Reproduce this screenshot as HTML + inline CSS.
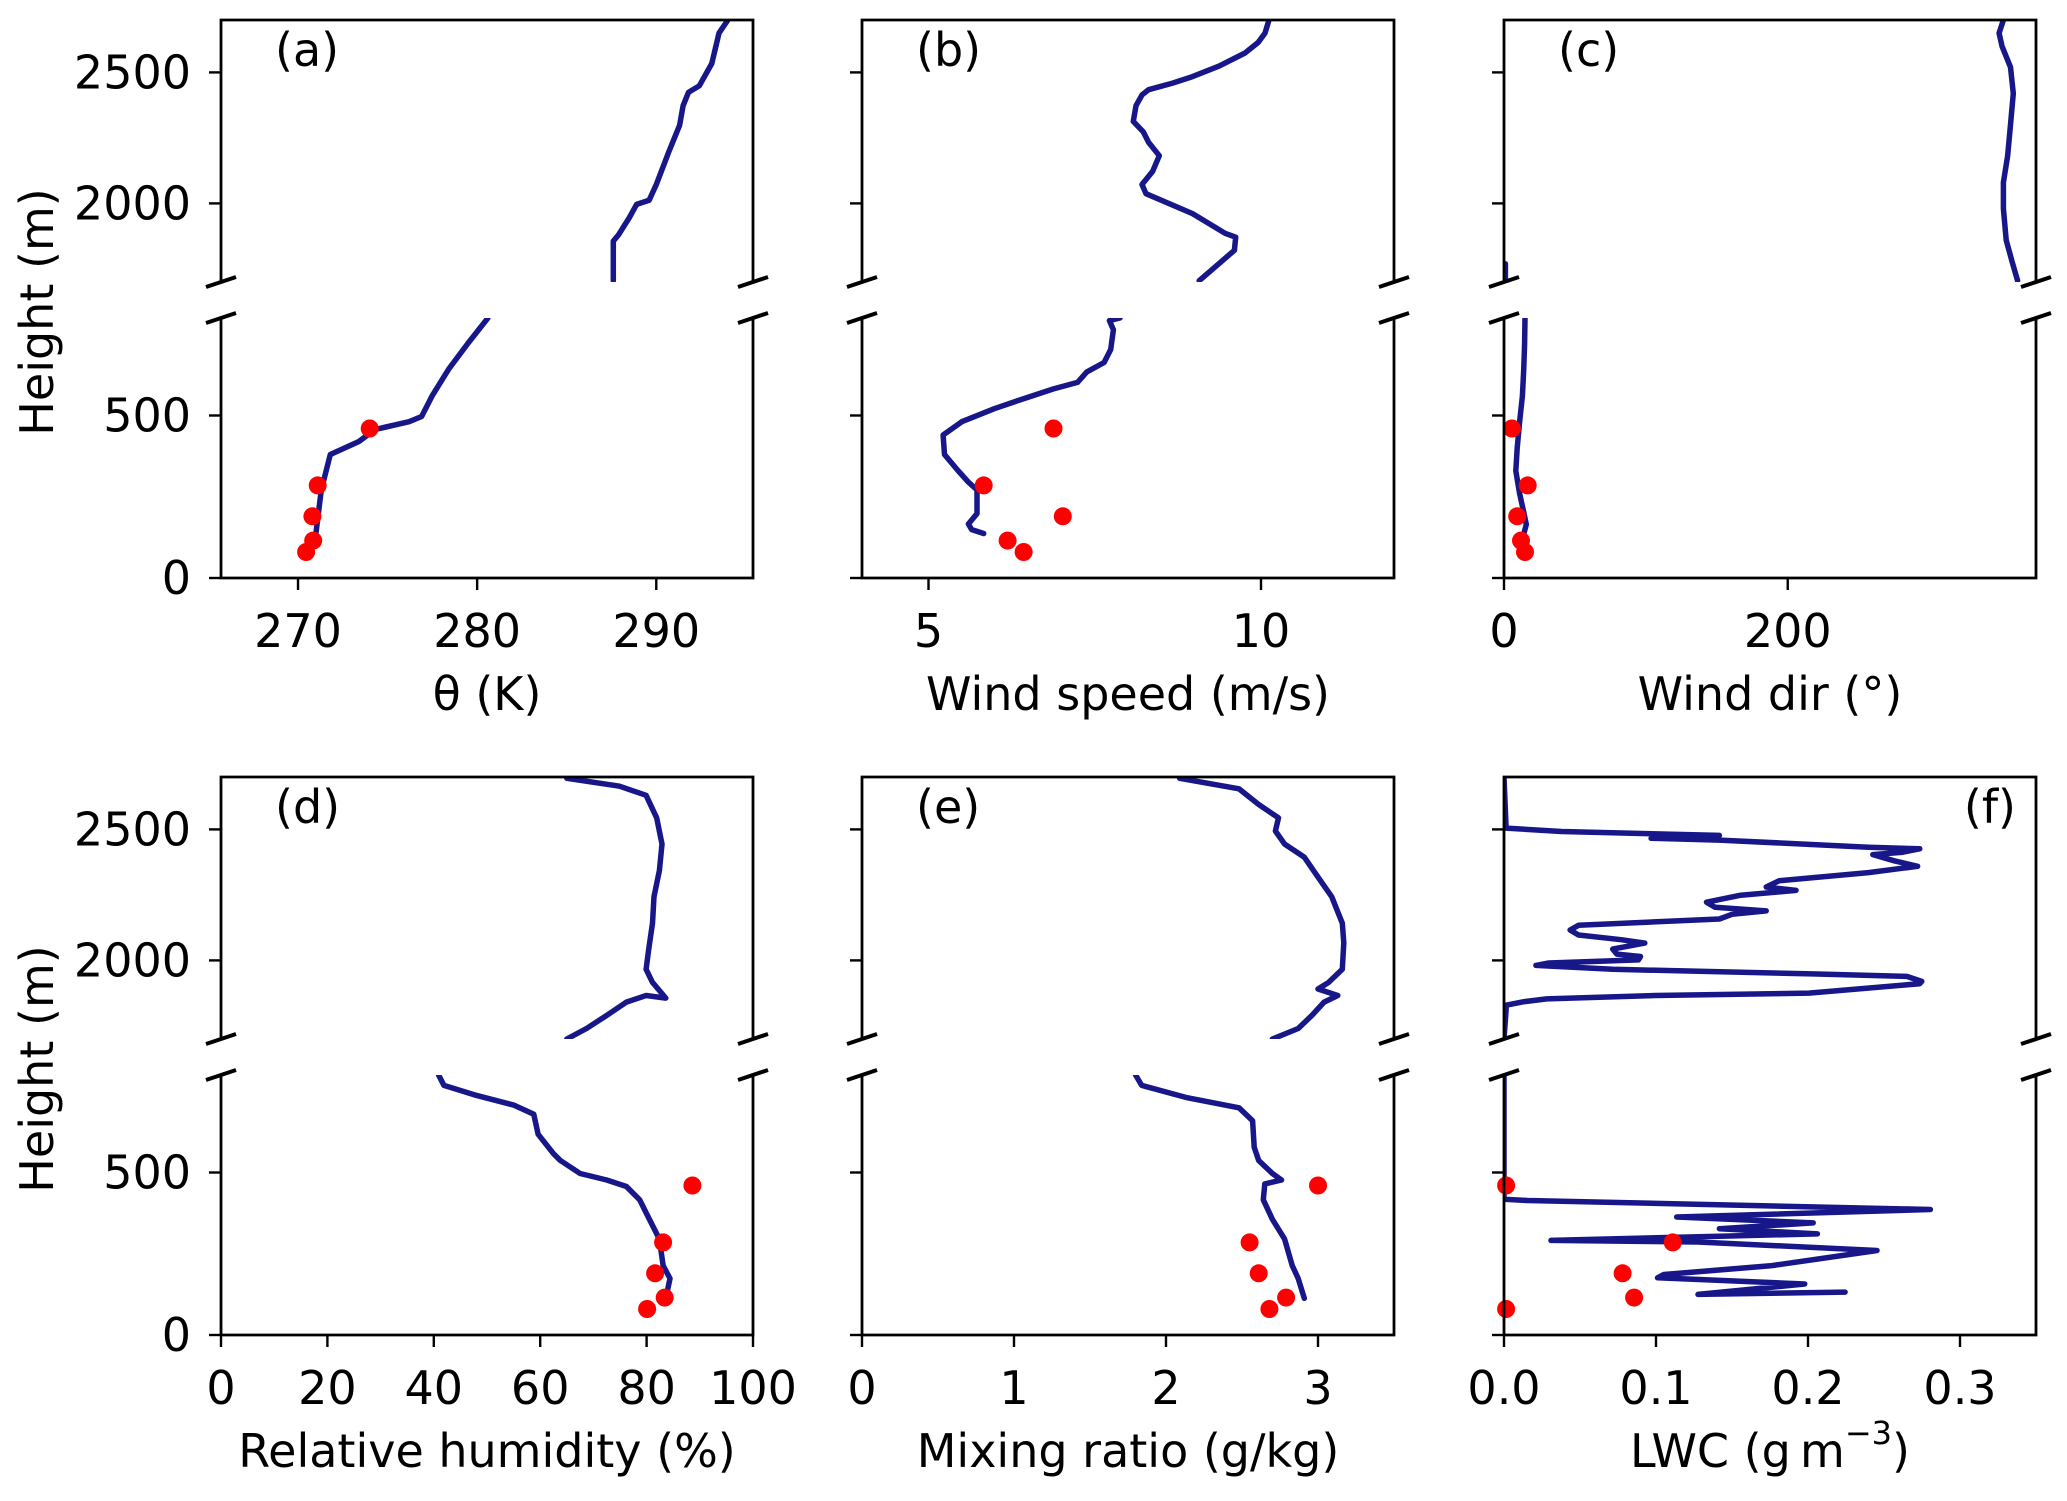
<!DOCTYPE html>
<html><head><meta charset="utf-8"><style>
html,body{margin:0;padding:0;background:#fff;}
svg{display:block;font-family:"DejaVu Sans","Liberation Sans",sans-serif;}
</style></head><body>
<svg id="fig" width="2067" height="1501" viewBox="0 0 2067 1501" xmlns="http://www.w3.org/2000/svg"></svg>
<script>
// ---------- data ----------
const dotHeights = [80, 115, 190, 285, 460];

const thetaUpH = [1705,1856,1881,1946,1996,2012,2072,2197,2298,2373,2424,2449,2534,2650,2700];
const thetaUpV = [287.6,287.6,287.9,288.5,288.9,289.6,290.0,290.7,291.3,291.5,291.8,292.4,293.1,293.5,294.0];
const thetaLoH = [137,271,380,400,420,457,481,497,562,642,723,800];
const thetaLoV = [271.0,271.3,271.8,272.6,273.4,274.3,276.2,276.9,277.5,278.4,279.5,280.6];
const thetaDots = [270.45,270.85,270.8,271.1,274.0];

const wsUpH = [1705,1821,1871,1886,1961,2037,2072,2122,2182,2233,2273,2313,2373,2414,2434,2459,2484,2524,2574,2615,2650,2700];
const wsUpV = [9.07,9.60,9.62,9.46,8.97,8.27,8.21,8.37,8.47,8.31,8.23,8.08,8.12,8.21,8.31,8.67,8.97,9.37,9.76,9.96,10.06,10.12];
const wsLoH = [137,149,166,198,271,295,331,380,440,481,521,549,582,602,634,663,703,764,792,800];
const wsLoV = [5.83,5.65,5.60,5.73,5.73,5.60,5.44,5.24,5.22,5.50,5.99,6.39,6.88,7.24,7.38,7.64,7.74,7.78,7.72,7.88];
const wsDots = [6.43,6.19,7.02,5.83,6.88];

const wdUpH = [1705,1780,1860,1980,2080,2180,2300,2420,2520,2600,2650,2700];
const wdUpV = [362,358,354,352,352,355,357,359,357,351,349,352];
const wdUp2H = [1700,1770];
const wdUp2V = [1,1];
const wdLoH = [137,165,200,260,330,400,480,560,640,720,800];
const wdLoV = [14,15.7,14,11,8.3,9.3,11,13,13.9,14.5,14.8];
const wdDots = [14.8,12,9.3,16.7,5.6];

const rhUpH = [1700,1740,1790,1841,1866,1856,1916,1966,2042,2142,2243,2343,2444,2544,2630,2665,2695];
const rhUpV = [65.0,68.7,72.5,76.2,79.9,83.6,81.1,79.9,80.4,81.1,81.4,82.4,82.9,81.9,79.9,74.9,65.0];
const rhLoH = [113,174,214,295,376,416,457,477,497,537,558,618,679,707,739,768,800];
const rhLoV = [83.6,84.4,83.1,82.4,79.9,78.7,76.2,72.5,67.5,63.8,62.5,59.6,58.8,55.1,47.6,41.9,40.9];
const rhDots = [80.1,83.4,81.6,83.1,88.6];

const mrUpH = [1700,1740,1790,1841,1866,1891,1916,1966,2067,2142,2243,2318,2394,2444,2494,2544,2595,2655,2695];
const mrUpV = [2.70,2.87,2.96,3.04,3.13,3.00,3.07,3.16,3.17,3.16,3.09,3.00,2.91,2.78,2.72,2.74,2.61,2.48,2.09];
const mrLoH = [113,174,214,295,356,416,465,477,497,537,578,659,699,731,768,800];
const mrLoV = [2.91,2.87,2.83,2.78,2.70,2.64,2.65,2.76,2.70,2.61,2.58,2.57,2.48,2.13,1.84,1.80];
const mrDots = [2.68,2.79,2.61,2.55,3.00];

const lwcUpH = [1700,1811,1829,1842,1853,1866,1875,1911,1920,1939,1948,1966,1981,1990,2002,2015,2024,2043,2066,2079,2097,2116,2134,2158,2176,2189,2203,2222,2249,2267,2280,2304,2335,2359,2380,2404,2413,2426,2432,2459,2466,2477,2492,2505,2700];
const lwcUpV = [0,0.0014,0.0014,0.0126,0.028,0.0996,0.2006,0.2735,0.2749,0.265,0.206,0.0715,0.021,0.0295,0.0884,0.0898,0.0743,0.0715,0.0926,0.0771,0.049,0.0435,0.049,0.1417,0.150,0.1725,0.1388,0.1332,0.1557,0.1921,0.1725,0.1809,0.2398,0.2721,0.2567,0.2426,0.2623,0.2735,0.2398,0.1417,0.0968,0.1417,0.0379,0.0014,0];
const lwcLoH = [132,125,157,176,186,213,260,286,291,304,311,327,345,363,386,414,418,800];
const lwcLoV = [0.2244,0.1276,0.1978,0.101,0.1052,0.1753,0.2454,0.1276,0.0309,0.1417,0.2062,0.1417,0.2034,0.1136,0.2805,0.0154,0,0];
const lwcDots = [0.0014,0.0856,0.078,0.111,0.0014];

const xTicksA = [270,280,290];
const xTicksB = [5,10];
const xTicksC = [0,200];
const xTicksD = [0,20,40,60,80,100];
const xTicksE = [0,1,2,3];
const xTicksF = [0,0.1,0.2,0.3];
const xTickLabelsF = ["0.0","0.1","0.2","0.3"];
const yTicksUpper = [2000,2500];
const yTicksLower = [0,500];

// ---------- layout ----------
const NS = "http://www.w3.org/2000/svg";
const svg = document.getElementById("fig");
const colX = [221, 862, 1504];
const W = 532;
const UP_TOP = 20, UP_BOT = 282, LO_TOP = 318, LO_BOT = 578;
const ROW_OFF = 757;
const LINE = "#17178a";
const FS = 46;

function mk(tag, attrs, parent) {
  const e = document.createElementNS(NS, tag);
  for (const k in attrs) e.setAttribute(k, attrs[k]);
  (parent || svg).appendChild(e);
  return e;
}

const panels = [
  {id:"a", col:0,row:0, xmin:265.7,xmax:295.4, ticks:xTicksA, labels:null, xlabel:"θ (K)",
   up:[[thetaUpV,thetaUpH]], lo:[[thetaLoV,thetaLoH]], dots:thetaDots, labelPos:"left"},
  {id:"b", col:1,row:0, xmin:4,xmax:12, ticks:xTicksB, labels:null, xlabel:"Wind speed (m/s)",
   up:[[wsUpV,wsUpH]], lo:[[wsLoV,wsLoH]], dots:wsDots, labelPos:"left"},
  {id:"c", col:2,row:0, xmin:0,xmax:375, ticks:xTicksC, labels:null, xlabel:"Wind dir (°)",
   up:[[wdUpV,wdUpH],[wdUp2V,wdUp2H]], lo:[[wdLoV,wdLoH]], dots:wdDots, labelPos:"left"},
  {id:"d", col:0,row:1, xmin:0,xmax:100, ticks:xTicksD, labels:null, xlabel:"Relative humidity (%)",
   up:[[rhUpV,rhUpH]], lo:[[rhLoV,rhLoH]], dots:rhDots, labelPos:"left"},
  {id:"e", col:1,row:1, xmin:0,xmax:3.5, ticks:xTicksE, labels:null, xlabel:"Mixing ratio (g/kg)",
   up:[[mrUpV,mrUpH]], lo:[[mrLoV,mrLoH]], dots:mrDots, labelPos:"left"},
  {id:"f", col:2,row:1, xmin:0,xmax:0.35, ticks:xTicksF, labels:xTickLabelsF, xlabel:"LWC",
   up:[[lwcUpV,lwcUpH]], lo:[[lwcLoV,lwcLoH]], dots:lwcDots, labelPos:"right"}
];

panels.forEach(p => {
  const x0 = colX[p.col], off = p.row * ROW_OFF;
  const xs = v => x0 + (v - p.xmin) / (p.xmax - p.xmin) * W;
  const yU = h => off + UP_TOP + (2700 - h) / 1000 * (UP_BOT - UP_TOP);
  const yL = h => off + LO_TOP + (800 - h) / 800 * (LO_BOT - LO_TOP);

  const g = mk("g", {});
  
  

  const defs = mk("defs", {}, g);
  const cu = mk("clipPath", {id:"cu"+p.id}, defs);
  mk("rect", {x:x0, y:off+UP_TOP, width:W, height:UP_BOT-UP_TOP}, cu);
  const cl = mk("clipPath", {id:"cl"+p.id}, defs);
  mk("rect", {x:x0, y:off+LO_TOP, width:W, height:LO_BOT-LO_TOP}, cl);

  const drawLines = (list, ys, clip, part) => {
    list.forEach((s, i) => {
      const d = s[0].map((v, k) => (k ? "L" : "M") + xs(v).toFixed(1) + "," + ys(s[1][k]).toFixed(1)).join(" ");
      const path = mk("path", {d:d, fill:"none", stroke:LINE, "stroke-width":5.5, "stroke-linejoin":"round", "stroke-linecap":"round", "clip-path":"url(#"+clip+")"}, g);
      
      
    });
  };
  drawLines(p.up, yU, "cu"+p.id, "upper");
  drawLines(p.lo, yL, "cl"+p.id, "lower");

  p.dots.forEach((v, k) => {
    const c = mk("circle", {cx:xs(v).toFixed(1), cy:yL(dotHeights[k]).toFixed(1), r:9, fill:"#ff0000"}, g);
    
    
  });

  const sp = {stroke:"#000", "stroke-width":2.8, fill:"none"};
  const up = mk("path", Object.assign({d:`M${x0},${off+UP_BOT} V${off+UP_TOP} H${x0+W} V${off+UP_BOT}`}, sp), g);
  
  
  const lo = mk("path", Object.assign({d:`M${x0},${off+LO_TOP} V${off+LO_BOT} H${x0+W} V${off+LO_TOP}`}, sp), g);
  
  

  [x0, x0 + W].forEach(bx => {
    [off+UP_BOT, off+LO_TOP].forEach(by => {
      const b = mk("line", {x1:bx-15, y1:by+5, x2:bx+15, y2:by-5, stroke:"#000", "stroke-width":4}, g);
      
      
    });
  });

  const yTick = (t, yy) => {
    const tk = mk("line", {x1:x0-12, x2:x0, y1:yy, y2:yy, stroke:"#000", "stroke-width":2.4}, g);
    
    
    if (p.col === 0) {
      const tl = mk("text", {x:x0-30, y:yy, "text-anchor":"end", "dominant-baseline":"central", "font-size":FS}, g);
      tl.textContent = t;
      
      
    }
  };
  yTicksUpper.forEach(t => yTick(t, yU(t)));
  yTicksLower.forEach(t => yTick(t, yL(t)));

  p.ticks.forEach((t, k) => {
    const tx = xs(t);
    const tk = mk("line", {x1:tx, x2:tx, y1:off+LO_BOT, y2:off+LO_BOT+12, stroke:"#000", "stroke-width":2.4}, g);
    
    
    const tl = mk("text", {x:tx, y:off+631, "text-anchor":"middle", "dominant-baseline":"central", "font-size":FS}, g);
    tl.textContent = p.labels ? p.labels[k] : t;
    
    
  });

  const xl = mk("text", {x:x0 + W/2, y:off+694, "text-anchor":"middle", "dominant-baseline":"central", "font-size":FS}, g);
  if (p.id === "f") {
    xl.textContent = "LWC (g\u2009m";
    const sup = mk("tspan", {"font-size":32, dy:-18}, xl);
    sup.textContent = "\u22123";
    const cl2 = mk("tspan", {dy:18}, xl);
    cl2.textContent = ")";
  } else {
    xl.textContent = p.xlabel;
  }
  
  

  const pl = p.labelPos === "left"
    ? mk("text", {x:x0+54, y:off+50, "text-anchor":"start", "dominant-baseline":"central", "font-size":FS}, g)
    : mk("text", {x:x0+W-20, y:off+50, "text-anchor":"end", "dominant-baseline":"central", "font-size":FS}, g);
  pl.textContent = "(" + p.id + ")";
  
  
});

[0, 1].forEach(r => {
  const cy = r * ROW_OFF + 312;
  const t = mk("text", {x:37, y:cy, "text-anchor":"middle", "dominant-baseline":"central", "font-size":FS, transform:`rotate(-90 37 ${cy})`});
  t.textContent = "Height (m)";
  
  
});
</script>
</body></html>
